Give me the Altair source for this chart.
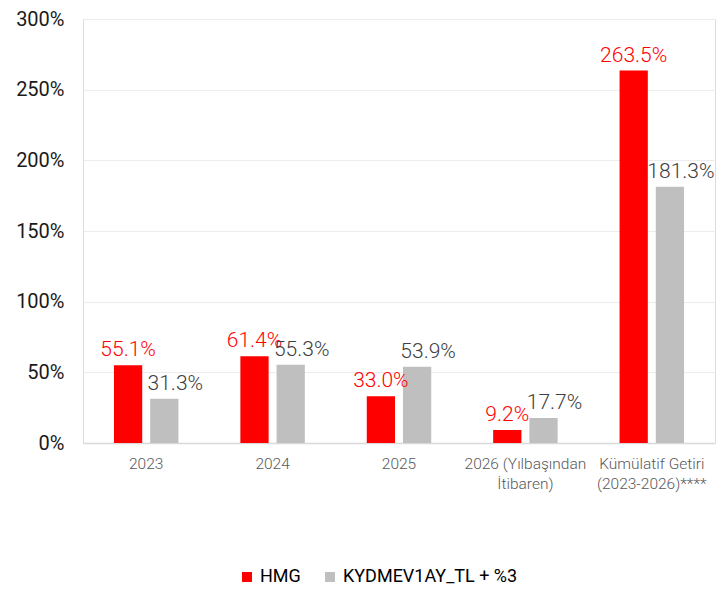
import altair as alt
import pandas as pd

categories = ["2023", "2024", "2025", "2026 (Yılbaşından\nİtibaren)", "Kümülatif Getiri\n(2023-2026)****"]
series = ["HMG", "KYDMEV1AY_TL + %3"]
hmg = [55.1, 61.4, 33.0, 9.2, 263.5]
bench = [31.3, 55.3, 53.9, 17.7, 181.3]

rows = []
for c, a, b in zip(categories, hmg, bench):
    rows.append({"cat": c, "series": series[0], "value": a / 100})
    rows.append({"cat": c, "series": series[1], "value": b / 100})
df = pd.DataFrame(rows)

FONT = "Roboto, sans-serif"
RED = "#ff0000"
GRAY = "#bfbfbf"

color = alt.Color(
    "series:N",
    scale=alt.Scale(domain=series, range=[RED, GRAY]),
    legend=alt.Legend(
        title=None, orient="none", direction="horizontal", symbolType="square",
        symbolSize=100, labelFontSize=18, labelFont=FONT, labelColor="#000000",
        labelFontWeight=400, columnPadding=20, legendX=155, legendY=549,
        symbolStrokeWidth=0, labelOffset=4, labelLimit=400,
    ),
)

x = alt.X(
    "cat:N", sort=categories, title=None,
    scale=alt.Scale(paddingInner=0.49, paddingOuter=0.245),
    axis=alt.Axis(
        labelAngle=0, labelFontSize=15.5, labelFont=FONT, labelFontWeight=300,
        labelColor="#595959", labelPadding=13, ticks=False, domainColor="#d9d9d9",
        domainWidth=1.5, labelExpr="split(datum.label, '\\n')", labelLineHeight=20,
    ),
)
xo = alt.XOffset("series:N", sort=series, scale=alt.Scale(paddingInner=0.22))
y = alt.Y(
    "value:Q", title=None,
    scale=alt.Scale(domain=[0, 3]),
    axis=alt.Axis(
        format=".0%", values=[0, 0.5, 1, 1.5, 2, 2.5, 3], labelFontSize=20,
        labelFont=FONT, labelFontWeight=400, labelColor="#1a1a1a", labelPadding=19,
        ticks=False, domain=False, gridColor="#ececec", gridWidth=1.2,
    ),
)

base = alt.Chart(df).encode(x=x, xOffset=xo, y=y)

bars = base.mark_bar().encode(color=color)

lbl_red = base.transform_filter(alt.datum.series == series[0]).mark_text(
    baseline="bottom", dy=-5, fontSize=21, font=FONT, fontWeight=300, color=RED
).encode(text=alt.Text("value:Q", format=".1%"))

lbl_gray = base.transform_filter(alt.datum.series == series[1]).mark_text(
    baseline="bottom", dy=-5, fontSize=21, font=FONT, fontWeight=300,
    color="#404040", dx=11
).encode(text=alt.Text("value:Q", format=".1%"))

chart = (bars + lbl_red + lbl_gray).properties(
    width=632, height=424,
    padding={"left": 7, "top": 1, "right": 1, "bottom": 5},
).configure_view(stroke=None).configure(background="white")

chart.save("out.html", embed_options={"renderer": "svg", "actions": False})
